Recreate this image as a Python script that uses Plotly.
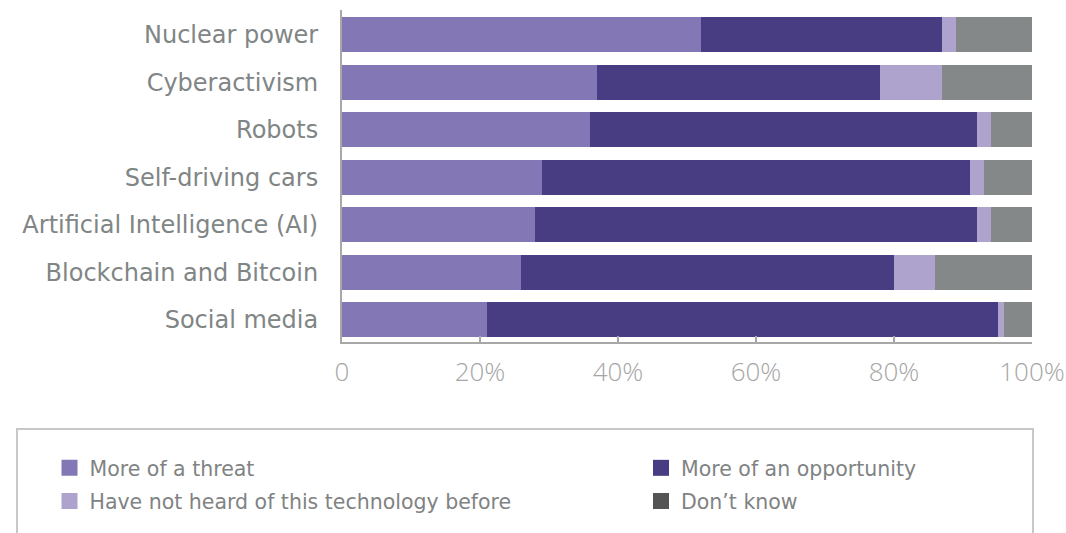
import plotly.graph_objects as go

# Technologies, listed top to bottom
categories = [
    "Nuclear power",
    "Cyberactivism",
    "Robots",
    "Self-driving cars",
    "Artificial Intelligence (AI)",
    "Blockchain and Bitcoin",
    "Social media",
]

# Share of respondents (%) per answer
threat = [52, 37, 36, 29, 28, 26, 21]
opportunity = [35, 41, 56, 62, 64, 54, 74]
not_heard = [2, 9, 2, 2, 2, 6, 1]
dont_know = [11, 13, 6, 7, 6, 14, 4]

series_names = [
    "More of a threat",
    "More of an opportunity",
    "Have not heard of this technology before",
    "Don\u2019t know",
]
bar_colors = ["#8377B5", "#483C83", "#AEA3CD", "#848888"]
legend_colors = ["#8377B5", "#483C83", "#AEA3CD", "#545454"]

tick_values = [0, 20, 40, 60, 80, 100]
tick_labels = ["0", "20%", "40%", "60%", "80%", "100%"]

W, H = 1066, 533
L, R, T, B = 342, 34, 10, 191
plot_w = W - L - R
plot_h = H - T - B


def px_x(p):
    return (p - L) / plot_w


def px_y(p):
    return (H - B - p) / plot_h


fig = go.Figure()

for name, vals, col in zip(series_names, [threat, opportunity, not_heard, dont_know], bar_colors):
    fig.add_trace(go.Bar(
        y=categories,
        x=vals,
        orientation="h",
        name=name,
        marker=dict(color=col, line=dict(width=0)),
        width=0.737,
        showlegend=False,
    ))

# Legend entries: two columns, each its own legend
legend_of = ["legend", "legend2", "legend", "legend2"]
for i, (name, col) in enumerate(zip(series_names, legend_colors)):
    fig.add_trace(go.Scatter(
        x=[None], y=[None],
        mode="markers",
        name=name,
        marker=dict(symbol="square", size=16, color=col),
        legend=legend_of[i],
        legendgroup=f"g{i}",
        showlegend=True,
    ))

legend_font = dict(family="DejaVu Sans", size=20.5, color="#7F8383")

# Frame around the legend area
fig.add_shape(
    type="rect", xref="paper", yref="paper",
    x0=px_x(17), x1=px_x(1033), y0=px_y(429), y1=px_y(560),
    line=dict(color="#C8C8C8", width=2), fillcolor="rgba(0,0,0,0)",
)

fig.update_layout(
    width=W, height=H,
    margin=dict(l=L, r=R, t=T, b=B, autoexpand=False),
    barmode="stack",
    bargap=0.26,
    plot_bgcolor="white",
    paper_bgcolor="white",
    xaxis=dict(
        range=[0, 100],
        tickvals=tick_values,
        ticktext=tick_labels,
        showgrid=False,
        zeroline=False,
        showline=True,
        linecolor="#A8A8A8",
        linewidth=2,
        ticks="inside",
        ticklen=6,
        tickwidth=2,
        tickcolor="#A8A8A8",
        tickfont=dict(family="Open Sans", size=26, color="#A6A6A6", weight=300),
        ticklabelstandoff=6,
        fixedrange=True,
    ),
    yaxis=dict(
        categoryorder="array",
        categoryarray=categories,
        range=[6.47, -0.52],
        showgrid=False,
        zeroline=False,
        showline=True,
        linecolor="#A8A8A8",
        linewidth=2,
        ticks="",
        tickfont=dict(family="DejaVu Sans", size=24, color="#808585"),
        ticklabelstandoff=17,
        fixedrange=True,
    ),
    legend=dict(
        x=px_x(49.5), y=px_y(448), xanchor="left", yanchor="top",
        orientation="v", traceorder="grouped", tracegroupgap=3.5,
        font=legend_font, bgcolor="rgba(0,0,0,0)", itemclick=False,
    ),
    legend2=dict(
        x=px_x(641), y=px_y(448), xanchor="left", yanchor="top",
        orientation="v", traceorder="grouped", tracegroupgap=3.5,
        font=legend_font, bgcolor="rgba(0,0,0,0)", itemclick=False,
    ),
)

fig.write_html("out.html")
